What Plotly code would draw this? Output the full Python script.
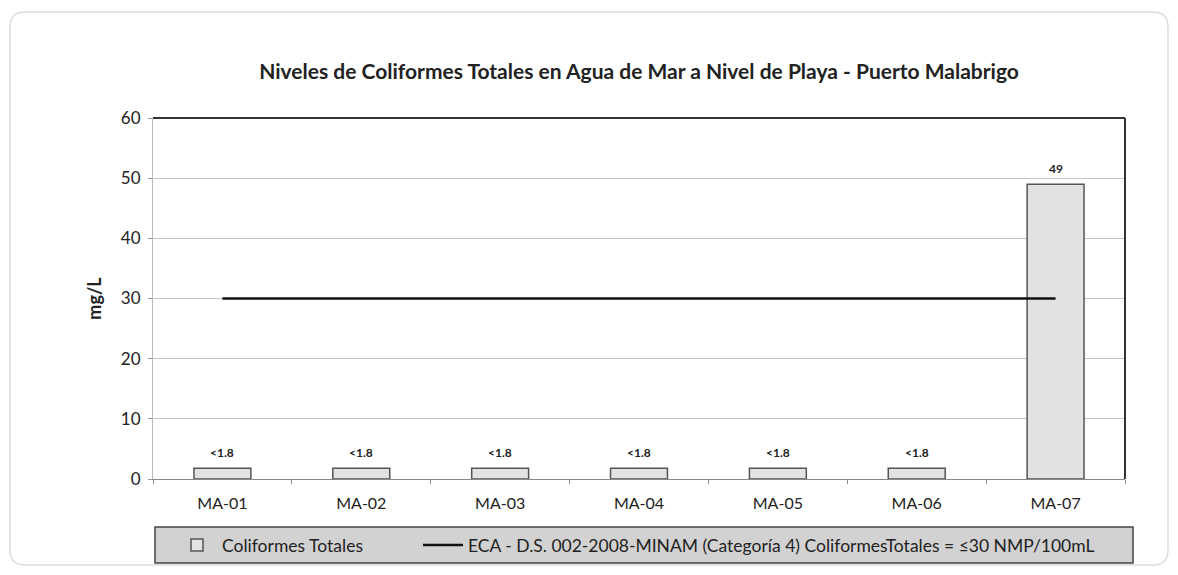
import plotly.graph_objects as go

categories = ["MA-01", "MA-02", "MA-03", "MA-04", "MA-05", "MA-06", "MA-07"]
coliformes = [1.8, 1.8, 1.8, 1.8, 1.8, 1.8, 49]
coliformes_labels = ["<1.8", "<1.8", "<1.8", "<1.8", "<1.8", "<1.8", "49"]
eca = [30, 30, 30, 30, 30, 30, 30]
y_ticks = [0, 10, 20, 30, 40, 50, 60]

FONT = "Lato"

fig = go.Figure()
fig.add_trace(go.Bar(
    x=categories, y=coliformes, name="Coliformes Totales",
    marker=dict(color="#e2e2e2", line=dict(color="#555555", width=1.5)),
    width=0.41, legend="legend",
))
fig.add_trace(go.Scatter(
    x=categories, y=eca, mode="lines",
    name="ECA - D.S. 002-2008-MINAM (Categoría 4) ColiformesTotales = ≤30 NMP/100mL",
    line=dict(color="#111111", width=2.5), legend="legend2",
))

# value labels above bars
annotations = [
    dict(x=c, y=v, text=f"<b>{t}</b>", showarrow=False, xref="x", yref="y",
         yanchor="middle", yshift=16, font=dict(family=FONT, size=12, color="#222"))
    for c, v, t in zip(categories, coliformes, coliformes_labels)
]

# paper-coordinate helpers
L, R, T, B = 153, 1125, 118, 479
W, H = R - L, B - T
def px(x):
    return (x - L) / W
def py(y):
    return (B - y) / H

shapes = []
# outer rounded frame
x0, x1, y0, y1 = px(10), px(1168), py(565), py(12)
rx, ry = 15 / W, 15 / H
path = (f"M {x0+rx},{y1} L {x1-rx},{y1} Q {x1},{y1} {x1},{y1-ry} "
        f"L {x1},{y0+ry} Q {x1},{y0} {x1-rx},{y0} L {x0+rx},{y0} "
        f"Q {x0},{y0} {x0},{y0+ry} L {x0},{y1-ry} Q {x0},{y1} {x0+rx},{y1} Z")
shapes.append(dict(type="path", xref="paper", yref="paper", path=path,
                   line=dict(color="#dddddd", width=1.5), layer="below"))
# legend box
shapes.append(dict(type="rect", xref="paper", yref="paper",
                   x0=px(155), x1=px(1133), y0=py(563), y1=py(527),
                   fillcolor="#d2d2d2", line=dict(color="#444444", width=1.5),
                   layer="below"))
# top and right borders of plot area
shapes.append(dict(type="line", xref="paper", yref="paper", x0=0, x1=1, y0=1, y1=1,
                   line=dict(color="#333333", width=2)))
shapes.append(dict(type="line", xref="paper", yref="paper", x0=1, x1=1, y0=0, y1=1,
                   line=dict(color="#333333", width=2)))

legend_common = dict(orientation="h", xanchor="left", y=py(545), yanchor="middle",
                     bgcolor="rgba(0,0,0,0)", itemwidth=40,
                     font=dict(family=FONT, size=17.5, color="#222"))

fig.update_layout(
    width=1178, height=575,
    margin=dict(l=L, r=1178 - R, t=T, b=575 - B),
    paper_bgcolor="white", plot_bgcolor="white",
    font=dict(family=FONT, size=16, color="#222"),
    title=dict(text="<b>Niveles de Coliformes Totales en Agua de Mar a Nivel de Playa - Puerto Malabrigo</b>",
               x=px(639), xref="paper", xanchor="center",
               y=1 - 72 / 575, yref="container", yanchor="middle",
               font=dict(family=FONT, size=21, color="#222")),
    showlegend=True,
    legend=dict(x=px(172), **legend_common),
    legend2=dict(x=px(418), **legend_common),
    bargap=0.59,
    shapes=shapes,
    annotations=annotations,
    xaxis=dict(showgrid=False, showline=True, linecolor="#888888", linewidth=1,
               ticks="outside", tickson="boundaries", ticklen=4, tickcolor="#888888",
               ticklabelstandoff=10,
               tickfont=dict(family=FONT, size=16, color="#222")),
    yaxis=dict(range=[0, 60], tickvals=y_ticks, showgrid=True, gridcolor="#c4c4c4",
               gridwidth=1, zeroline=False, showline=True, linecolor="#bbbbbb",
               ticks="outside", ticklen=4, tickcolor="#999999",
               ticklabelstandoff=4,
               tickfont=dict(family=FONT, size=17, color="#222"),
               title=dict(text="<b>mg/L</b>", standoff=14,
                          font=dict(family=FONT, size=18, color="#222"))),
)

fig.write_html("out.html", config={"displayModeBar": False},
               post_script="document.body.style.margin='0';")
